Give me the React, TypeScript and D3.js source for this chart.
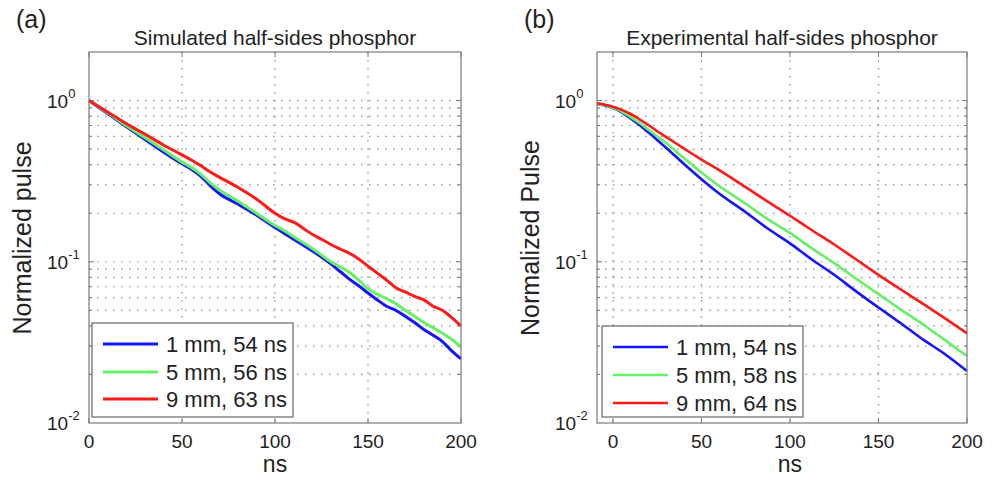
import React from 'react';
import * as d3 from 'd3';

const FONT = '"Liberation Sans", Arial, Helvetica, sans-serif';

// (a) simulated
const simNs = [0, 10, 20, 30, 40, 50, 55, 60, 65, 70, 80, 90, 100, 105, 110, 120, 125, 130, 135, 140, 145, 150, 155, 160, 165, 170, 175, 180, 185, 190, 195, 200];
const sim1mm = [1.0, 0.83, 0.69, 0.575, 0.48, 0.405, 0.375, 0.34, 0.298, 0.265, 0.228, 0.195, 0.163, 0.15, 0.138, 0.117, 0.107, 0.097, 0.087, 0.078, 0.071, 0.064, 0.058, 0.053, 0.05, 0.046, 0.042, 0.038, 0.035, 0.032, 0.028, 0.025];
const sim5mm = [1.0, 0.84, 0.7, 0.59, 0.495, 0.415, 0.385, 0.35, 0.31, 0.28, 0.238, 0.2, 0.168, 0.156, 0.143, 0.121, 0.11, 0.1, 0.093, 0.086, 0.077, 0.068, 0.063, 0.059, 0.055, 0.05, 0.046, 0.042, 0.039, 0.036, 0.033, 0.0296];
const sim9mm = [1.0, 0.85, 0.72, 0.62, 0.53, 0.46, 0.428, 0.395, 0.362, 0.335, 0.29, 0.245, 0.2, 0.185, 0.176, 0.148, 0.138, 0.128, 0.12, 0.113, 0.104, 0.094, 0.085, 0.077, 0.069, 0.065, 0.061, 0.058, 0.053, 0.05, 0.045, 0.04];
const simLegend = ['1 mm, 54 ns', '5 mm, 56 ns', '9 mm, 63 ns'];

// (b) experimental
const expNs = [-9, -5, 0, 5, 10, 15, 20, 25, 30, 40, 50, 60, 75, 87, 100, 112, 125, 137, 150, 162, 175, 187, 200];
const exp1mm = [0.95, 0.935, 0.9, 0.845, 0.775, 0.705, 0.635, 0.57, 0.51, 0.405, 0.325, 0.265, 0.203, 0.162, 0.13, 0.104, 0.083, 0.066, 0.052, 0.042, 0.033, 0.027, 0.021];
const exp5mm = [0.95, 0.937, 0.905, 0.855, 0.79, 0.725, 0.66, 0.6, 0.545, 0.44, 0.358, 0.295, 0.229, 0.185, 0.151, 0.122, 0.098, 0.079, 0.063, 0.051, 0.041, 0.033, 0.026];
const exp9mm = [0.96, 0.945, 0.915, 0.875, 0.825, 0.765, 0.705, 0.645, 0.595, 0.505, 0.43, 0.37, 0.29, 0.238, 0.193, 0.158, 0.128, 0.104, 0.083, 0.068, 0.055, 0.045, 0.036];
const expLegend = ['1 mm, 54 ns', '5 mm, 58 ns', '9 mm, 64 ns'];

const xTickValues = [0, 50, 100, 150, 200];
const yDecades = [-2, -1, 0];
const colors = ['#1414ff', '#66f066', '#ff1a1a'];

type PanelProps = {
  letter: string;
  title: string;
  yLabel: string;
  ns: number[];
  series: number[][];
  legend: string[];
  xMin: number;
  left: number;
  right: number;
  lineW: number;
  legendBox: { x: number; y: number; w: number; h: number; rows: number[] };
};

const top = 52;
const bottom = 423;

function Panel(p: PanelProps) {
  const x = d3.scaleLinear().domain([p.xMin, 200]).range([p.left, p.right]);
  const y = d3.scaleLog().domain([0.01, 2]).range([bottom, top]);

  const minors: number[] = [];
  yDecades.forEach(k => {
    for (let m = 1; m <= 9; m++) {
      const v = m * Math.pow(10, k);
      if (v > 0.01 && v < 2) minors.push(v);
    }
  });

  const line = d3.line<number>()
    .x((_, i) => x(p.ns[i]))
    .y(d => y(d))
    .curve(d3.curveMonotoneX);

  const grid = '#8a8a8a';
  const border = '#7a7a7a';
  const cx = (p.left + p.right) / 2;
  const lb = p.legendBox;

  return (
    <g fontFamily={FONT} fill="#222">
      <text x={p.left - 73} y={28} fontSize={25}>{p.letter}</text>
      <text x={cx} y={45} fontSize={21} textAnchor="middle">{p.title}</text>

      {/* grid */}
      {minors.map(v => (
        <line key={'h' + v} x1={p.left} x2={p.right} y1={y(v)} y2={y(v)}
          stroke={grid} strokeWidth={1.2} strokeDasharray="1.5 6.5" />
      ))}
      {xTickValues.filter(t => x(t) > p.left + 1 && x(t) < p.right - 1).map(t => (
        <line key={'v' + t} x1={x(t)} x2={x(t)} y1={top} y2={bottom}
          stroke={grid} strokeWidth={1.2} strokeDasharray="1.5 6.5" />
      ))}

      {/* ticks */}
      {xTickValues.map(t => (
        <g key={'xt' + t}>
          <line x1={x(t)} x2={x(t)} y1={bottom} y2={bottom - 5} stroke={border} />
          <line x1={x(t)} x2={x(t)} y1={top} y2={top + 5} stroke={border} />
          <text x={x(t)} y={448} fontSize={19} textAnchor="middle">{t}</text>
        </g>
      ))}
      {minors.map(v => {
        const major = Math.abs(Math.log10(v) - Math.round(Math.log10(v))) < 1e-9;
        const len = major ? 5 : 3;
        return (
          <g key={'yt' + v}>
            <line x1={p.left} x2={p.left + len} y1={y(v)} y2={y(v)} stroke={border} />
            <line x1={p.right} x2={p.right - len} y1={y(v)} y2={y(v)} stroke={border} />
          </g>
        );
      })}
      {yDecades.map(k => (
        <text key={'yl' + k} x={p.left - 42} y={y(Math.pow(10, k)) + 7} fontSize={19}>
          10<tspan dy={-10} fontSize={13}>{k === 0 ? '0' : String(k)}</tspan>
        </text>
      ))}

      <text fontSize={25} textAnchor="middle"
        transform={`translate(${p.left - 58},238) rotate(-90)`}>{p.yLabel}</text>
      <text x={x(100)} y={472} fontSize={23} textAnchor="middle">ns</text>

      {/* curves */}
      {p.series.map((s, i) => (
        <path key={'s' + i} d={line(s) ?? ''} fill="none" stroke={colors[i]}
          strokeWidth={p.lineW} strokeLinejoin="round" />
      ))}

      <rect x={p.left} y={top} width={p.right - p.left} height={bottom - top}
        fill="none" stroke={border} strokeWidth={1.2} />

      {/* legend */}
      <rect x={lb.x} y={lb.y} width={lb.w} height={lb.h} fill="#fff" stroke="#666" strokeWidth={1.2} />
      {p.legend.map((name, i) => (
        <g key={'lg' + i}>
          <line x1={lb.x + 11} x2={lb.x + 66} y1={lb.rows[i]} y2={lb.rows[i]}
            stroke={colors[i]} strokeWidth={p.lineW} />
          <text x={lb.x + 74} y={lb.rows[i] + 7.5} fontSize={22}>{name}</text>
        </g>
      ))}
    </g>
  );
}

export default function App() {
  return (
    <svg width={995} height={480} style={{ position: 'absolute', left: 0, top: 0, background: '#fff' }}>
      <rect width={995} height={480} fill="#fff" />
      <Panel letter="(a)" title="Simulated half-sides phosphor" yLabel="Normalized pulse"
        ns={simNs} series={[sim1mm, sim5mm, sim9mm]} legend={simLegend}
        xMin={0} left={89} right={461} lineW={3}
        legendBox={{ x: 92, y: 323, w: 201, h: 94, rows: [344, 372, 399] }} />
      <Panel letter="(b)" title="Experimental half-sides phosphor" yLabel="Normalized Pulse"
        ns={expNs} series={[exp1mm, exp5mm, exp9mm]} legend={expLegend}
        xMin={-9} left={597} right={967} lineW={2.6}
        legendBox={{ x: 602, y: 326, w: 201, h: 91, rows: [347, 375, 403] }} />
    </svg>
  );
}
